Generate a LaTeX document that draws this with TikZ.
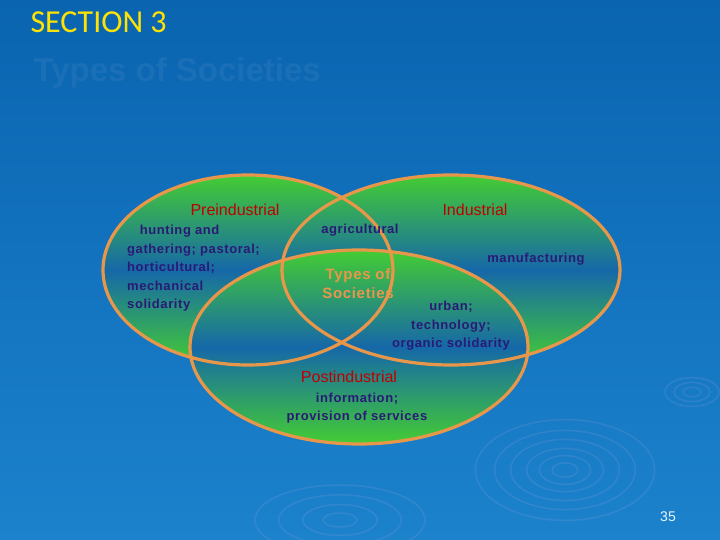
\documentclass[tikz,border=0pt]{standalone}
\usepackage{fontspec}
\setmainfont{Liberation Sans}
\newfontfamily\calib{Carlito}
\newfontfamily\spaced[LetterSpace=4.5]{Liberation Sans}
\definecolor{bgtop}{HTML}{0A64B0}
\definecolor{bgbot}{HTML}{1C82CC}
\definecolor{grn}{HTML}{44CC33}
\definecolor{midb}{HTML}{1668A8}
\definecolor{org}{HTML}{E8974A}
\definecolor{txt}{HTML}{2A1A78}
\begin{document}
\begin{tikzpicture}[x=1pt,y=-1pt,
  ell/.style={top color=grn, bottom color=grn, middle color=midb},
  edge/.style={draw=org, line width=3.2pt},
  head/.style={text=red!75!black, font=\fontsize{16}{19}\selectfont},
  body/.style={text=txt, font=\spaced\bfseries\fontsize{13}{18.5}\selectfont, align=left},
  ripple/.style={draw=cyan!40!blue!50!white, opacity=0.22, line width=1.5pt}]
\useasboundingbox (0,0) rectangle (720,540);
\shade[top color=bgtop, bottom color=bgbot] (0,0) rectangle (720,540);
\foreach \r in {8,16,24,34,44,56}{\draw[ripple] (565,470) ellipse ({\r*1.6} and {\r*0.9});}
\foreach \r in {6,12,18}{\draw[ripple] (692,392) ellipse ({\r*1.5} and {\r*0.8});}
\foreach \r in {10,22,36,50}{\draw[ripple] (340,520) ellipse ({\r*1.7} and {\r*0.7});}
\node[anchor=west, text=yellow!85!orange, font=\calib\fontsize{32}{36}\selectfont] (sec) at (27,22) {SECTION 3};
\node[anchor=west, text=bgtop!93!white, font=\bfseries\fontsize{33}{38}\selectfont] (ttl) at (30,73) {Types of Societies};
\fill[ell] (248,270) ellipse (145 and 95);
\fill[ell] (451,270) ellipse (169 and 95);
\fill[ell] (359,347) ellipse (169 and 97);
\draw[edge] (248,270) ellipse (145 and 95);
\draw[edge] (451,270) ellipse (169 and 95);
\draw[edge] (359,347) ellipse (169 and 97);
\node[head] (pre) at (235,210) {Preindustrial};
\node[head] (ind) at (475,210) {Industrial};
\node[head] (post) at (349,377) {Postindustrial};
\node[body, anchor=north west, inner sep=0pt] (prebody) at (127,225) {\ \ \ hunting and\\gathering; pastoral;\\horticultural;\\mechanical\\solidarity};
\node[body] (agr) at (360,230) {agricultural};
\node[body] (man) at (536,259) {manufacturing};
\node[text=org, font=\spaced\bfseries\fontsize{15}{19}\selectfont, align=center] (ctr) at (358,284) {Types of\\Societies};
\node[body, align=center] (urb) at (451,326) {urban;\\technology;\\organic solidarity};
\node[body, align=center] (info) at (357,408) {information;\\provision of services};
\node[text=white!90!cyan, font=\fontsize{14}{16}\selectfont] (pg) at (668,517) {35};
\end{tikzpicture}
\end{document}
